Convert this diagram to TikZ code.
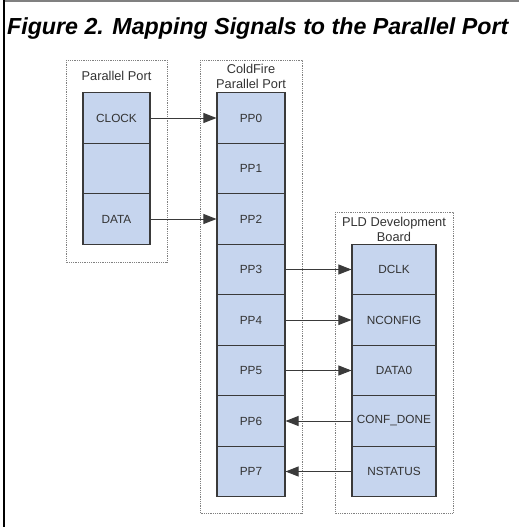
\documentclass[tikz,border=0pt]{standalone}
\usepackage{fontspec}
\setmainfont{Liberation Sans}
\usetikzlibrary{arrows.meta}
\definecolor{cellblue}{HTML}{C6D5EE}
\definecolor{edgegray}{HTML}{3A3A3A}
\def\RowH{50.5}
\tikzset{
  cell/.style={draw=edgegray, fill=cellblue, line width=1.1pt, minimum height=\RowH pt,
    inner sep=0pt, font=\fontsize{11.8}{14}\selectfont, text=black!80},
  group/.style={draw=gray, densely dotted, line width=0.8pt},
  glabel/.style={font=\fontsize{12.8}{15}\selectfont, text=black!80, align=center},
  sig/.style={draw=edgegray, line width=1pt, -{Triangle[length=13pt,width=10pt]}}
}
\begin{document}
\begin{tikzpicture}[x=1pt, y=-1pt]
  \useasboundingbox (0,0) rectangle (519,527);

  % frame and title
  \draw[gray, line width=1.2pt] (4,1) -- (519,1);
  \draw[black, line width=2pt] (4,0) -- (4,527);
  \node[anchor=west, inner sep=0pt, font=\fontsize{23.2}{26}\selectfont\bfseries\itshape] (title) at (7,29)
    {Figure 2. Mapping Signals to the Parallel Port};

  % dotted groups
  \draw[group] (66,60) rectangle (167,262);
  \draw[group] (200,60) rectangle (302,513);
  \draw[group] (335,212) rectangle (453,513);

  \node[glabel] (lpp) at (116.5,76) {Parallel Port};
  \node[glabel] (lcf) at (251,76.5) {ColdFire\\Parallel Port};
  \node[glabel] (lpld) at (394,229.5) {PLD Development\\Board};

  % parallel port column
  \node[cell, minimum width=67pt] (clk) at (116.5,118) {CLOCK};
  \node[cell, minimum width=67pt] (blank) at (116.5,118+\RowH) {};
  \node[cell, minimum width=67pt] (dat) at (116.5,118+2*\RowH) {DATA};

  % coldfire column
  \foreach \i in {0,...,7}
    \node[cell, minimum width=68pt] (pp\i) at (251,118+\i*\RowH) {PP\i};

  % PLD board column
  \foreach \n/\t [count=\k from 3] in {dclk/DCLK,nconf/NCONFIG,data0/DATA0,cdone/CONF\_DONE,nstat/NSTATUS}
    \node[cell, minimum width=84pt] (\n) at (394,118+\k*\RowH) {\t};

  % signals
  \draw[sig] (clk.east) -- (pp0.west);
  \draw[sig] (dat.east) -- (pp2.west);
  \draw[sig] (pp3.east) -- (dclk.west);
  \draw[sig] (pp4.east) -- (nconf.west);
  \draw[sig] (pp5.east) -- (data0.west);
  \draw[sig] (cdone.west) -- (pp6.east);
  \draw[sig] (nstat.west) -- (pp7.east);
\end{tikzpicture}
\end{document}
